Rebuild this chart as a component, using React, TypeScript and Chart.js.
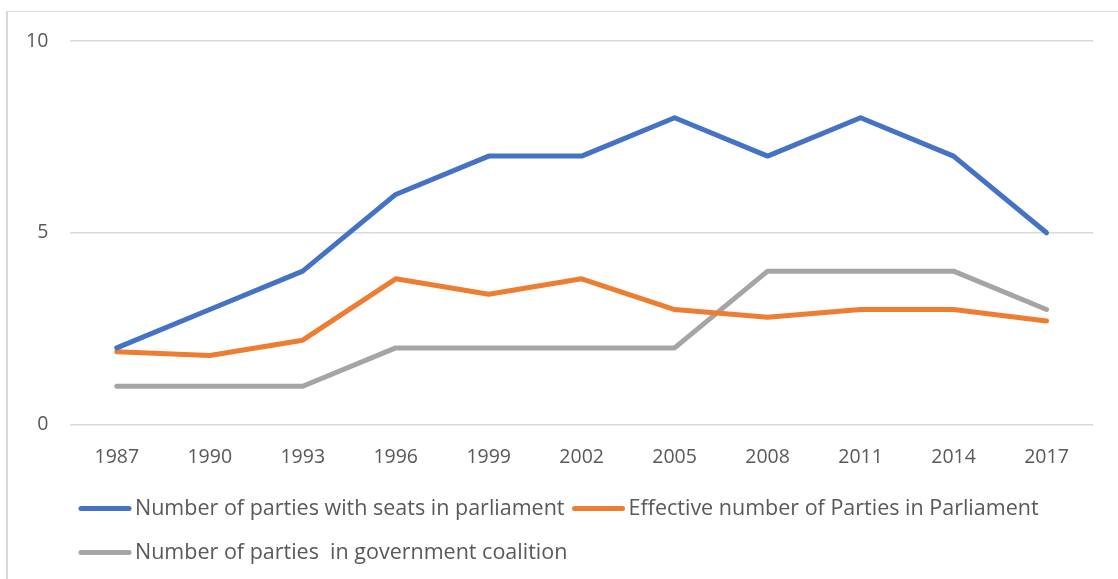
import React, { useEffect, useRef } from "react";
import { Chart, registerables } from "chart.js";

Chart.register(...registerables);

const years = ["1987", "1990", "1993", "1996", "1999", "2002", "2005", "2008", "2011", "2014", "2017"];
const seatsParties = [2, 3, 4, 6, 7, 7, 8, 7, 8, 7, 5];
const effectiveParties = [1.9, 1.8, 2.2, 3.8, 3.4, 3.8, 3.0, 2.8, 3.0, 3.0, 2.7];
const coalitionParties = [1, 1, 1, 2, 2, 2, 2, 4, 4, 4, 3];
const seriesLabels = [
  "Number of parties with seats in parliament",
  "Effective number of Parties in Parliament",
  "Number of parties  in government coalition",
];
const seriesColors = ["#4472C4", "#ED7D31", "#A5A5A5"];
const FONT = '"Open Sans", "DejaVu Sans", sans-serif';
const TEXT = "#595959";

const legendPlugin = {
  id: "excelLegend",
  afterDraw(chart: any) {
    const ctx = chart.ctx as CanvasRenderingContext2D;
    const area = chart.chartArea;
    ctx.save();
    ctx.font = `21.5px ${FONT}`;
    ctx.textBaseline = "middle";
    ctx.textAlign = "left";
    const rows = [[0, 1], [2]];
    const rowY = [area.bottom + 84, area.bottom + 128];
    rows.forEach((row, ri) => {
      let x = 81;
      const y = rowY[ri];
      row.forEach((i) => {
        const ds = chart.data.datasets[i];
        ctx.strokeStyle = ds.borderColor;
        ctx.lineWidth = 5;
        ctx.lineCap = "round";
        ctx.beginPath();
        ctx.moveTo(x, y);
        ctx.lineTo(x + 48, y);
        ctx.stroke();
        ctx.fillStyle = TEXT;
        ctx.fillText(ds.label, x + 54, y);
        x += 54 + ctx.measureText(ds.label).width + 10;
      });
    });
    ctx.restore();
  },
};

export default function App() {
  const canvasRef = useRef<HTMLCanvasElement | null>(null);

  useEffect(() => {
    if (!canvasRef.current) return;
    const data = [seatsParties, effectiveParties, coalitionParties];
    const chart = new Chart(canvasRef.current, {
      type: "line",
      data: {
        labels: years,
        datasets: data.map((d, i) => ({
          label: seriesLabels[i],
          data: d,
          borderColor: seriesColors[i],
          backgroundColor: seriesColors[i],
          borderWidth: 5,
          pointRadius: 0,
          pointHoverRadius: 0,
          tension: 0,
          borderCapStyle: "round" as const,
          borderJoinStyle: "round" as const,
          fill: false,
        })),
      },
      options: {
        animation: false,
        responsive: true,
        maintainAspectRatio: false,
        layout: { padding: { top: 41, left: 4, right: 25, bottom: 89 } },
        plugins: {
          legend: { display: false },
          tooltip: { enabled: false },
          title: { display: false },
        },
        scales: {
          x: {
            offset: true,
            grid: { display: false, drawTicks: false },
            border: { display: false },
            ticks: { color: TEXT, font: { family: FONT, size: 19.5 }, padding: 21, maxRotation: 0 },
          },
          y: {
            min: 0,
            max: 10,
            grid: { color: "#d9d9d9", lineWidth: 1.5, drawTicks: false },
            border: { display: false },
            ticks: { stepSize: 5, color: TEXT, font: { family: FONT, size: 19.5 }, padding: 22 },
          },
        },
      },
      plugins: [legendPlugin],
    });
    return () => chart.destroy();
  }, []);

  return (
    <div>
      <div
        style={{
          position: "fixed",
          left: 6,
          top: 11,
          width: 1200,
          height: 700,
          borderLeft: "2px solid #d9d9d9",
          borderTop: "1.5px solid #d9d9d9",
          boxSizing: "border-box",
        }}
      />
      <div style={{ position: "fixed", left: 0, top: 0, width: 1118, height: 579 }}>
        <canvas ref={canvasRef} />
      </div>
    </div>
  );
}
